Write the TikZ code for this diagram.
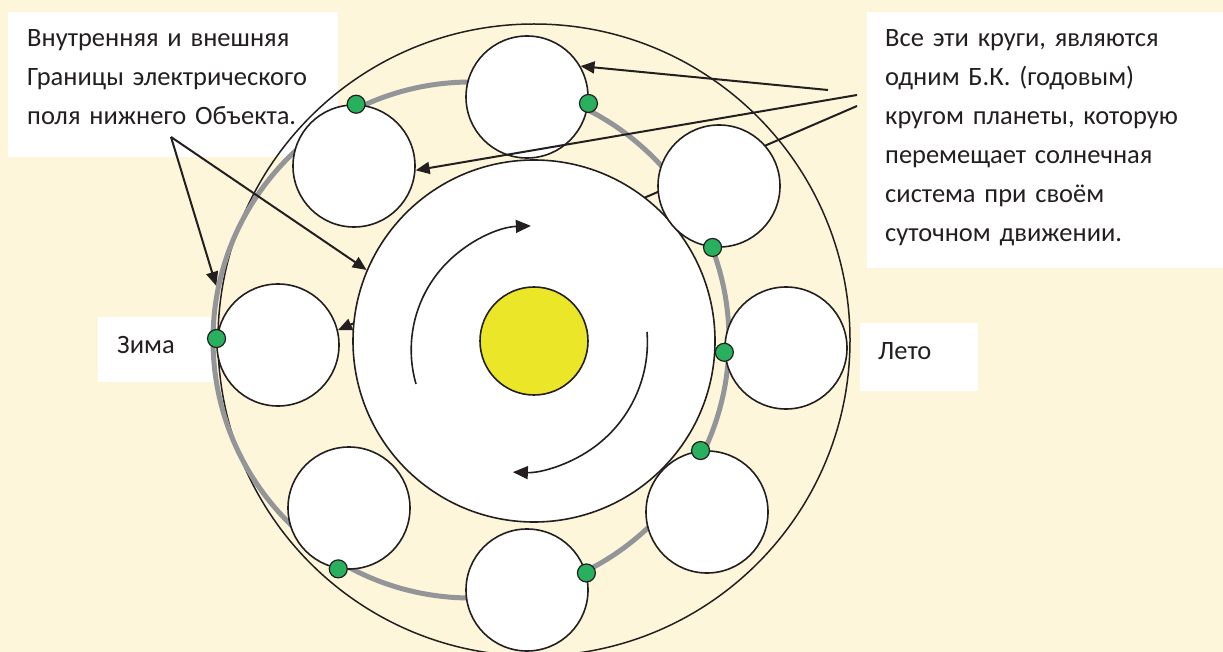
\documentclass[tikz,border=0pt]{standalone}
\usepackage{fontspec}
\setmainfont{Carlito}
\usetikzlibrary{arrows.meta, positioning}

\definecolor{cream}{HTML}{FDF6DA}
\definecolor{ink}{HTML}{231F20}
\definecolor{sunyellow}{HTML}{ECE628}
\definecolor{dotgreen}{HTML}{29B05E}
\definecolor{ringgray}{HTML}{939598}

\pgfdeclarelayer{back}
\pgfdeclarelayer{under}
\pgfsetlayers{back,under,main}

\tikzset{
  orbit/.style={circle, draw=ink, line width=1.5pt, inner sep=0pt},
  planet/.style={orbit, fill=white, line width=1.6pt, minimum size=122pt},
  spot/.style={circle, draw=ink, fill=dotgreen, line width=1.2pt, minimum size=18pt, inner sep=0pt},
  note/.style={text=ink, font=\fontsize{26.5}{39}\selectfont, inner sep=0pt, anchor=base west, align=left, text width=360pt},
  pointer/.style={->, draw=ink, line width=2pt},
  turn/.style={->, draw=ink, line width=1.6pt, >={Triangle[length=15pt,width=13pt]}},
}

\begin{document}
\begin{tikzpicture}[x=1pt, y=-1pt, >={Triangle[length=14pt,width=12pt]}]
  \useasboundingbox (0,0) rectangle (1223,652);
  \begin{pgfonlayer}{back}
    \fill[cream] (0,0) rectangle (1223,652);
    \fill[white] (8,12) rectangle (338,157);
    \fill[white] (867,12) rectangle (1223,268);
    \fill[white] (98,317) rectangle (215,382);
    \fill[white] (860,323) rectangle (978,391);
    \node[orbit, minimum size=632pt] (outer) at (534,340) {};
    \node[orbit, draw=ringgray, line width=5pt, minimum size=516pt] (ring) at (471,340) {};
  \end{pgfonlayer}

  % field round the sun
  \node[orbit, fill=white, line width=1.6pt, minimum size=362pt] (inner) at (534,341) {};
  \node[orbit, fill=sunyellow, line width=1.6pt, minimum size=108pt] (sun) at (534,341) {};
  \draw[turn] (416,384) arc[start angle=196, end angle=92, radius=124pt];
  \draw[turn] (647,332) arc[start angle=4.5, end angle=-92, radius=130pt];

  % planets on the year circle
  \node[planet] (pn)  at (527,97)  {};
  \node[planet] (pne) at (719,186) {};
  \node[planet] (pe)  at (786,348) {};
  \node[planet] (pse) at (707,512) {};
  \node[planet] (ps)  at (527,590) {};
  \node[planet] (psw) at (349,508) {};
  \node[planet] (pw)  at (278,345) {};
  \node[planet] (pnw) at (354,166) {};
  \foreach \p/\a in {pn/-6, pne/264, pe/184, pse/96, ps/16, psw/260, pw/174, pnw/88}
    \node[spot] (d\p) at (\p.\a) {};

  % callouts
  \coordinate (lapex) at (171,137);
  \coordinate (ra) at (828,90);
  \coordinate (rb) at (857,95);
  \coordinate (rc) at (857,106);
  \begin{pgfonlayer}{under}
    \draw[pointer] (rc) -- (pw.14);
  \end{pgfonlayer}
  \draw[pointer] (ra) -- (pn.30);
  \draw[pointer] (rb) -- (pnw.-4);
  \draw[pointer] (lapex) -- (ring.168);
  \draw[pointer] (lapex) -- (inner.157);

  \node[note] (bounds) at (27,47) {Внутренняя и внешняя\\Границы электрического\\поля нижнего Объекта.};
  \node[note] (same) at (885,47) {Все эти круги, являются\\одним Б.К. (годовым)\\кругом планеты, которую\\перемещает солнечная\\система при своём\\суточном движении.};
  \node[note] (winter) at (117,353) {Зима};
  \node[note] (summer) at (878,359) {Лето};
\end{tikzpicture}
\end{document}
